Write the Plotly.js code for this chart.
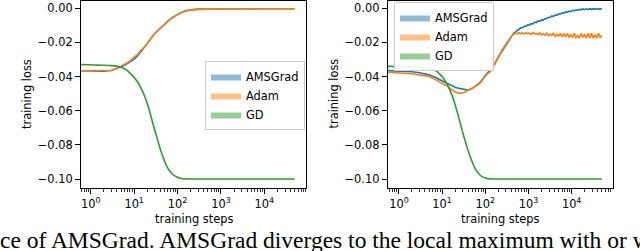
<!DOCTYPE html>
<html>
<head>
<meta charset="utf-8">
<script src="https://cdn.plot.ly/plotly-3.0.1.min.js"></script>
<style>html,body{margin:0;padding:0;background:#fff;}#chart{width:640px;height:251px;}</style>
</head>
<body>
<div id="chart"></div>
<script>
// ---------- Left panel data ----------
const leftSteps = [0.6,1,1.5,2,3,4,5,6,7,8,10,12,14,17,20,24,28,34,40,48,57,68,81,100,115,140,170,230,300,500,1000,2000,5000,10000,20000,50000];
const leftAMSGrad = [-0.0366,-0.0367,-0.0368,-0.0368,-0.0364,-0.0354,-0.0342,-0.0334,-0.0324,-0.0316,-0.0298,-0.0278,-0.0254,-0.0230,-0.0207,-0.0176,-0.0156,-0.0134,-0.0116,-0.0098,-0.0080,-0.0063,-0.0049,-0.0036,-0.0027,-0.0018,-0.0012,-0.0007,-0.0005,-0.0004,-0.0003,-0.0003,-0.0003,-0.0003,-0.0003,-0.0003];
const leftAdam = [-0.0366,-0.0366,-0.0366,-0.0366,-0.0363,-0.0352,-0.0340,-0.0330,-0.0318,-0.0308,-0.0288,-0.0270,-0.0248,-0.0228,-0.0205,-0.0175,-0.0155,-0.0133,-0.0115,-0.0097,-0.0080,-0.0064,-0.0050,-0.0037,-0.0028,-0.0019,-0.0013,-0.0008,-0.0006,-0.0005,-0.0004,-0.0004,-0.0003,-0.0003,-0.0003,-0.0003];
const leftGD = [-0.0330,-0.0331,-0.0333,-0.0334,-0.0336,-0.0340,-0.0346,-0.0354,-0.0365,-0.0380,-0.0405,-0.0432,-0.0462,-0.0508,-0.0557,-0.0625,-0.0690,-0.0762,-0.0825,-0.0882,-0.0928,-0.0958,-0.0977,-0.0990,-0.0996,-0.0999,-0.1,-0.1,-0.1,-0.1,-0.1,-0.1,-0.1,-0.1,-0.1,-0.1];

// ---------- Right panel data ----------
const rightSteps = [0.55,1,2,3,5,7,10,13,17,20,24,28,34,40,48,57,68,81,100,115,130,160,200,250,
  316,347,380,417,457,501,550,603,661,724,794,871,955,1047,1148,1259,1380,1514,1660,1820,1995,2188,2399,2630,2884,3162,3467,3802,4169,4571,5012,5495,6026,6607,7244,7943,8710,9550,10471,11482,12589,13804,15136,16596,18197,19953,21878,23988,26303,28840,31623,34674,38019,41687,45709,50119];
const rightAMSGrad = [-0.0365,-0.0367,-0.0372,-0.0378,-0.0390,-0.0405,-0.0425,-0.0440,-0.0455,-0.0462,-0.0468,-0.0472,-0.0477,-0.0479,-0.0472,-0.0460,-0.0445,-0.0425,-0.0395,-0.0378,-0.0361,-0.0330,-0.0285,-0.0245,
  -0.0204,-0.0188,-0.0172,-0.0160,-0.0146,-0.0140,-0.0128,-0.0124,-0.0113,-0.0114,-0.0105,-0.0106,-0.0097,-0.0099,-0.0090,-0.0091,-0.0082,-0.0084,-0.0074,-0.0076,-0.0068,-0.0069,-0.0060,-0.0061,-0.0053,-0.0054,-0.0045,-0.0047,-0.0039,-0.0040,-0.0032,-0.0034,-0.0026,-0.0028,-0.0021,-0.0023,-0.0017,-0.0019,-0.0012,-0.0015,-0.0009,-0.0012,-0.0006,-0.0009,-0.0004,-0.0008,-0.0003,-0.0007,-0.0002,-0.0006,-0.0002,-0.0006,-0.0003,-0.0006,-0.0002,-0.0004];
const rightAdam = [-0.0375,-0.0377,-0.0383,-0.0390,-0.0400,-0.0418,-0.0440,-0.0455,-0.0478,-0.0490,-0.0497,-0.0498,-0.0490,-0.0482,-0.0472,-0.0460,-0.0448,-0.0430,-0.0395,-0.0380,-0.0371,-0.0335,-0.0285,-0.0240,
  -0.0202,-0.0186,-0.0175,-0.0160,-0.0153,-0.0145,-0.0150,-0.0142,-0.0149,-0.0144,-0.0151,-0.0143,-0.0148,-0.0146,-0.0153,-0.0142,-0.0150,-0.0147,-0.0155,-0.0143,-0.0157,-0.0149,-0.0158,-0.0145,-0.0161,-0.0151,-0.0159,-0.0146,-0.0165,-0.0152,-0.0163,-0.0147,-0.0167,-0.0150,-0.0168,-0.0147,-0.0169,-0.0155,-0.0171,-0.0146,-0.0172,-0.0160,-0.0174,-0.0147,-0.0170,-0.0152,-0.0175,-0.0148,-0.0173,-0.0147,-0.0175,-0.0157,-0.0174,-0.0146,-0.0172,-0.0158];
const rightGDSteps = [0.55,1,2,3,4,5,6,7,8,10,12,14,17,20,24,28,34,40,48,57,68,81,100,115,140,200,1000,10000,50000];
const rightGD = [-0.0340,-0.0341,-0.0343,-0.0345,-0.0348,-0.0352,-0.0358,-0.0365,-0.0375,-0.0400,-0.0428,-0.0460,-0.0510,-0.0565,-0.0635,-0.0700,-0.0775,-0.0835,-0.0890,-0.0935,-0.0965,-0.0983,-0.0994,-0.0998,-0.1,-0.1,-0.1,-0.1,-0.1];

// ---------- Labels ----------
const seriesNames = ['AMSGrad','Adam','GD'];
const xTickVals = [1,10,100,1000,10000];
const xTickText = ['10<sup>0</sup>','10<sup>1</sup>','10<sup>2</sup>','10<sup>3</sup>','10<sup>4</sup>'];
const yTickVals = [0,-0.02,-0.04,-0.06,-0.08,-0.10];
const xTitle = 'training steps';
const yTitle = 'training loss';
const caption = 'ce of AMSGrad. AMSGrad diverges to the local maximum with or w';

const colors = ['#1f77b4','#ff7f0e','#2ca02c'];
const patchColors = ['rgba(31,119,180,0.5)','rgba(255,127,14,0.5)','rgba(44,160,44,0.5)'];
const W = 640, H = 251;
const font = 'DejaVu Sans, sans-serif';
const fs = 11.4;

function line(x, y, c, xa, ya, shape) {
  return {type:'scatter', mode:'lines', x:x, y:y, xaxis:xa, yaxis:ya,
    line:{color:c, width:1.6, shape:shape||'linear', smoothing:0.6}, showlegend:false, hoverinfo:'skip'};
}
function patch(name, i, lg) {
  return {type:'scatter', mode:'lines', x:[null], y:[null], name:name, legend:lg,
    fill:'toself', fillcolor:patchColors[i], line:{width:0, color:patchColors[i]}, showlegend:true};
}

const data = [
  line(leftSteps, leftAMSGrad, colors[0], 'x', 'y'),
  line(leftSteps, leftAdam, colors[1], 'x', 'y'),
  line(leftSteps, leftGD, colors[2], 'x', 'y', 'spline'),
  line(rightSteps, rightAMSGrad, colors[0], 'x2', 'y2'),
  line(rightSteps, rightAdam, colors[1], 'x2', 'y2'),
  line(rightGDSteps, rightGD, colors[2], 'x2', 'y2', 'spline'),
  patch(seriesNames[0],0,'legend'), patch(seriesNames[1],1,'legend'), patch(seriesNames[2],2,'legend'),
  patch(seriesNames[0],0,'legend2'), patch(seriesNames[1],1,'legend2'), patch(seriesNames[2],2,'legend2')
];

const yDomain = [1 - 188.3/H, 1 - 0.5/H];
function xaxis(d0, d1, anchor) {
  return {type:'log', domain:[d0/W, d1/W], anchor:anchor, range:[-0.225, 4.96],
    tickvals:xTickVals, ticktext:xTickText, ticks:'outside', ticklen:5, tickwidth:1, tickcolor:'#000',
    minor:{ticks:'outside', ticklen:2.5, tickwidth:0.8, tickcolor:'#000', dtick:'D1', showgrid:false},
    showline:true, mirror:true, linecolor:'#000', linewidth:1, showgrid:false, zeroline:false,
    tickfont:{family:font, size:fs, color:'#000'}};
}
function yaxis(anchor) {
  return {domain:yDomain, anchor:anchor, range:[-0.10545, 0.00457],
    tickvals:yTickVals, tickformat:'.2f', ticks:'outside', ticklen:5, tickwidth:1, tickcolor:'#000',
    showline:true, mirror:true, linecolor:'#000', linewidth:1, showgrid:false, zeroline:false,
    tickfont:{family:font, size:fs, color:'#000'}};
}
const legendBase = {xanchor:'left', yanchor:'top', bgcolor:'rgba(255,255,255,0.9)', bordercolor:'#cccccc', borderwidth:1,
  font:{family:font, size:fs, color:'#000'}, tracegroupgap:0};

function ann(text, px, py, extra) {
  return Object.assign({text:text, xref:'paper', yref:'paper', x:px/W, y:1-py/H, xanchor:'center', yanchor:'middle',
    showarrow:false, font:{family:font, size:fs, color:'#000'}}, extra||{});
}

const layout = {
  width:W, height:H, margin:{l:0, r:0, t:0, b:0},
  paper_bgcolor:'#fff', plot_bgcolor:'#fff',
  xaxis: xaxis(81, 306, 'y'),
  yaxis: yaxis('x'),
  xaxis2: Object.assign(xaxis(387.7, 612.7, 'y2'), {range:[-0.26, 4.95]}),
  yaxis2: yaxis('x2'),
  legend: Object.assign({x:205/W, y:1-61/H}, legendBase),
  legend2: Object.assign({x:394/W, y:1-2/H}, legendBase),
  annotations:[
    ann(xTitle, 193.5, 219),
    ann(xTitle, 500, 219),
    ann(yTitle, 27, 94, {textangle:-90}),
    ann(yTitle, 333.5, 94, {textangle:-90}),
    {text:caption, xref:'paper', yref:'paper', x:-0.003, y:1-240/H, xanchor:'left', yanchor:'middle',
    showarrow:false, font:{family:'Liberation Serif, serif', size:23.5, color:'#000'}}]
};

Plotly.newPlot('chart', data, layout, {staticPlot:true, displayModeBar:false});
</script>
</body>
</html>
